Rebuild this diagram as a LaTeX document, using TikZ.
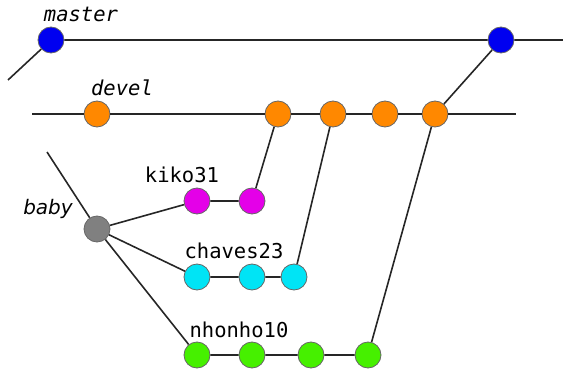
\documentclass[tikz,border=0pt]{standalone}
\usepackage{fontspec}
\setmainfont{DejaVu Sans}
\newfontfamily\monofont{DejaVu Sans Mono}
\definecolor{cmaster}{RGB}{0,0,240}
\definecolor{cdevel}{RGB}{255,136,0}
\definecolor{ckiko}{RGB}{228,0,232}
\definecolor{cchaves}{RGB}{0,228,245}
\definecolor{cnhonho}{RGB}{70,240,0}
\definecolor{cbaby}{RGB}{128,128,128}
\tikzset{
  commit/.style={circle, minimum size=26pt, inner sep=0pt, draw=black!60, line width=0.8pt, fill=#1},
  branch/.style={line width=1.6pt, draw=black!85},
  lbl/.style={font=\monofont\fontsize{20.5}{20.5}\selectfont, inner sep=0pt},
  ilbl/.style={font=\monofont\itshape\fontsize{20.5}{20.5}\selectfont, inner sep=0pt},
}
\begin{document}
\begin{tikzpicture}[x=1pt,y=-1pt]
\useasboundingbox (0,0) rectangle (563,369);
% free ends of the long branch lines
\coordinate (mstart) at (8,80);
\coordinate (mend) at (563,40);
\coordinate (dstart) at (32,114);
\coordinate (dend) at (516,114);
\coordinate (bstart) at (47,152);
% commits
\node[commit=cmaster] (m1) at (51,40) {};
\node[commit=cmaster] (m2) at (501,40) {};
\node[commit=cdevel] (d1) at (97,114) {};
\node[commit=cdevel] (d2) at (278,114) {};
\node[commit=cdevel] (d3) at (333,114) {};
\node[commit=cdevel] (d4) at (385,114) {};
\node[commit=cdevel] (d5) at (435,114) {};
\node[commit=cbaby] (b) at (97,229) {};
\node[commit=ckiko] (k1) at (197,201) {};
\node[commit=ckiko] (k2) at (252,201) {};
\node[commit=cchaves] (c1) at (197,277) {};
\node[commit=cchaves] (c2) at (252,277) {};
\node[commit=cchaves] (c3) at (294,277) {};
\node[commit=cnhonho] (n1) at (197,355) {};
\node[commit=cnhonho] (n2) at (252,355) {};
\node[commit=cnhonho] (n3) at (311,355) {};
\node[commit=cnhonho] (n4) at (368,355) {};
% branch labels
\node[ilbl] (lmaster) at (81,14) {master};
\node[ilbl] (ldevel) at (122,88) {devel};
\node[font=\itshape\fontsize{20}{20}\selectfont, inner sep=0pt] (lbaby) at (48,209) {baby};
\node[lbl] (lkiko) at (182,175) {kiko31};
\node[lbl] (lchaves) at (234,251) {chaves23};
\node[lbl] (lnhonho) at (239,330) {nhonho10};
% history lines
\draw[branch] (mstart) -- (m1) -- (m2) -- (mend);
\draw[branch] (dstart) -- (d1) -- (d2) -- (d3) -- (d4) -- (d5) -- (dend);
\draw[branch] (bstart) -- (b);
\draw[branch] (b) -- (k1) -- (k2) -- (d2);
\draw[branch] (b) -- (c1) -- (c2) -- (c3) -- (d3);
\draw[branch] (b) -- (n1) -- (n2) -- (n3) -- (n4) -- (d5);
\draw[branch] (d5) -- (m2);
\end{tikzpicture}
\end{document}
